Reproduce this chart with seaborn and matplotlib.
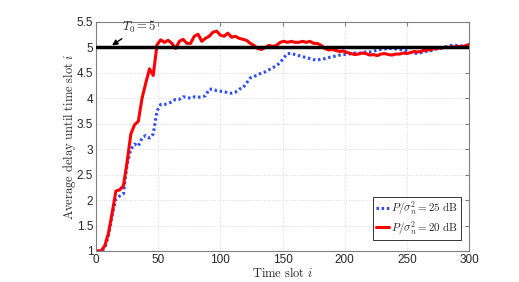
import numpy as np
import pandas as pd
import seaborn as sns
import matplotlib.pyplot as plt

slots = list(range(1, 300, 3)) + [300]

delay_20db = [1.0, 1.0, 1.1, 1.35, 1.75, 2.18, 2.2, 2.28, 2.75, 3.3,
              3.48, 3.55, 4.0, 4.3, 4.58, 4.45, 5.05, 5.15, 5.1, 5.14,
              5.08, 4.98, 5.12, 5.16, 5.08, 5.08, 5.22, 5.26, 5.12, 5.18,
              5.22, 5.3, 5.32, 5.24, 5.22, 5.28, 5.2, 5.22, 5.18, 5.16,
              5.14, 5.08, 5.04, 4.98, 4.96, 5.0, 5.04, 5.02, 5.04, 5.1,
              5.12, 5.1, 5.12, 5.1, 5.1, 5.12, 5.1, 5.12, 5.08, 5.08,
              5.04, 4.98, 4.95, 4.96, 4.94, 4.92, 4.93, 4.9, 4.88, 4.86,
              4.87, 4.89, 4.88, 4.85, 4.86, 4.84, 4.87, 4.88, 4.86, 4.85,
              4.87, 4.87, 4.89, 4.88, 4.9, 4.92, 4.91, 4.93, 4.95, 4.95,
              4.97, 4.98, 4.99, 5.0, 5.0, 5.01, 5.01, 5.02, 5.02, 5.04,
              5.06]

delay_25db = [1.0, 1.0, 1.05, 1.3, 1.7, 2.02, 2.08, 2.12, 2.7, 3.0,
              3.1, 3.06, 3.22, 3.27, 3.22, 3.3, 3.75, 3.88, 3.88, 3.9,
              3.93, 3.98, 3.98, 4.03, 4.02, 4.0, 4.03, 4.02, 4.03, 4.05,
              4.18, 4.18, 4.15, 4.14, 4.13, 4.11, 4.1, 4.12, 4.18, 4.2,
              4.3, 4.4, 4.43, 4.46, 4.5, 4.52, 4.56, 4.6, 4.64, 4.7,
              4.8, 4.88, 4.88, 4.86, 4.84, 4.82, 4.8, 4.78, 4.76, 4.75,
              4.77, 4.78, 4.8, 4.82, 4.83, 4.85, 4.86, 4.86, 4.88, 4.89,
              4.88, 4.9, 4.91, 4.91, 4.92, 4.95, 4.96, 4.97, 4.98, 4.98,
              4.97, 4.96, 4.95, 4.93, 4.9, 4.88, 4.89, 4.9, 4.92, 4.93,
              4.95, 4.97, 4.98, 5.0, 5.03, 5.04, 5.04, 5.03, 5.03, 5.03,
              5.04]

T0 = 5
x_ticks = [0, 50, 100, 150, 200, 250, 300]
y_ticks = [1, 1.5, 2, 2.5, 3, 3.5, 4, 4.5, 5, 5.5]
y_tick_labels = ['1', '1.5', '2', '2.5', '3', '3.5', '4', '4.5', '5', '5.5']

sns.set_style('white')
plt.rcParams['font.family'] = ['Liberation Sans', 'DejaVu Sans']
plt.rcParams['mathtext.fontset'] = 'cm'

df = pd.DataFrame({'slot': slots, 'd25': delay_25db, 'd20': delay_20db})

fig = plt.figure(figsize=(5.19, 2.82), dpi=100)
ax = fig.add_axes([0.185, 0.110, 0.719, 0.812])

sns.lineplot(data=df, x='slot', y='d25', ax=ax, color='#2a4cff', lw=2.2,
             linestyle=(0, (0.8, 0.9)), label=r'$P/\sigma_n^2 = 25\ \mathrm{dB}$')
sns.lineplot(data=df, x='slot', y='d20', ax=ax, color='#ff0000', lw=2.2,
             label=r'$P/\sigma_n^2 = 20\ \mathrm{dB}$')
ax.axhline(T0, color='black', lw=2.5, zorder=5)

ax.annotate(r'$T_0 = 5$', xy=(12.9, 5.04), xytext=(35, 5.41),
            fontsize=9, ha='center', va='center',
            arrowprops=dict(arrowstyle='-|>', color='black', lw=1,
                            mutation_scale=8, shrinkA=1, shrinkB=0))

ax.set_xlim(0, 300)
ax.set_ylim(1, 5.5)
ax.set_xticks(x_ticks)
ax.set_yticks(y_ticks)
ax.set_yticklabels(y_tick_labels)
ax.grid(True, color='#d8d8d8', linestyle=':', lw=0.7)
ax.tick_params(direction='in', length=3, labelsize=8.5, top=True, right=True,
               color='#808080', pad=2)
for sp in ax.spines.values():
    sp.set_color('#808080')
    sp.set_linewidth(0.8)

ax.set_xlabel(r'$\mathrm{Time\ slot}\ i$', fontsize=9, labelpad=0)
ax.set_ylabel(r'$\mathrm{Average\ delay\ until\ time\ slot}\ i$', fontsize=9,
              labelpad=-1)

leg = ax.legend(loc='lower right', bbox_to_anchor=(0.978, 0.05), fontsize=8,
                frameon=True, fancybox=False, handlelength=1.2,
                handletextpad=0.2, borderpad=0.25, labelspacing=0.15,
                borderaxespad=0)
leg.get_frame().set_edgecolor('black')
leg.get_frame().set_linewidth(0.7)

fig.savefig('out.png', dpi=100)
